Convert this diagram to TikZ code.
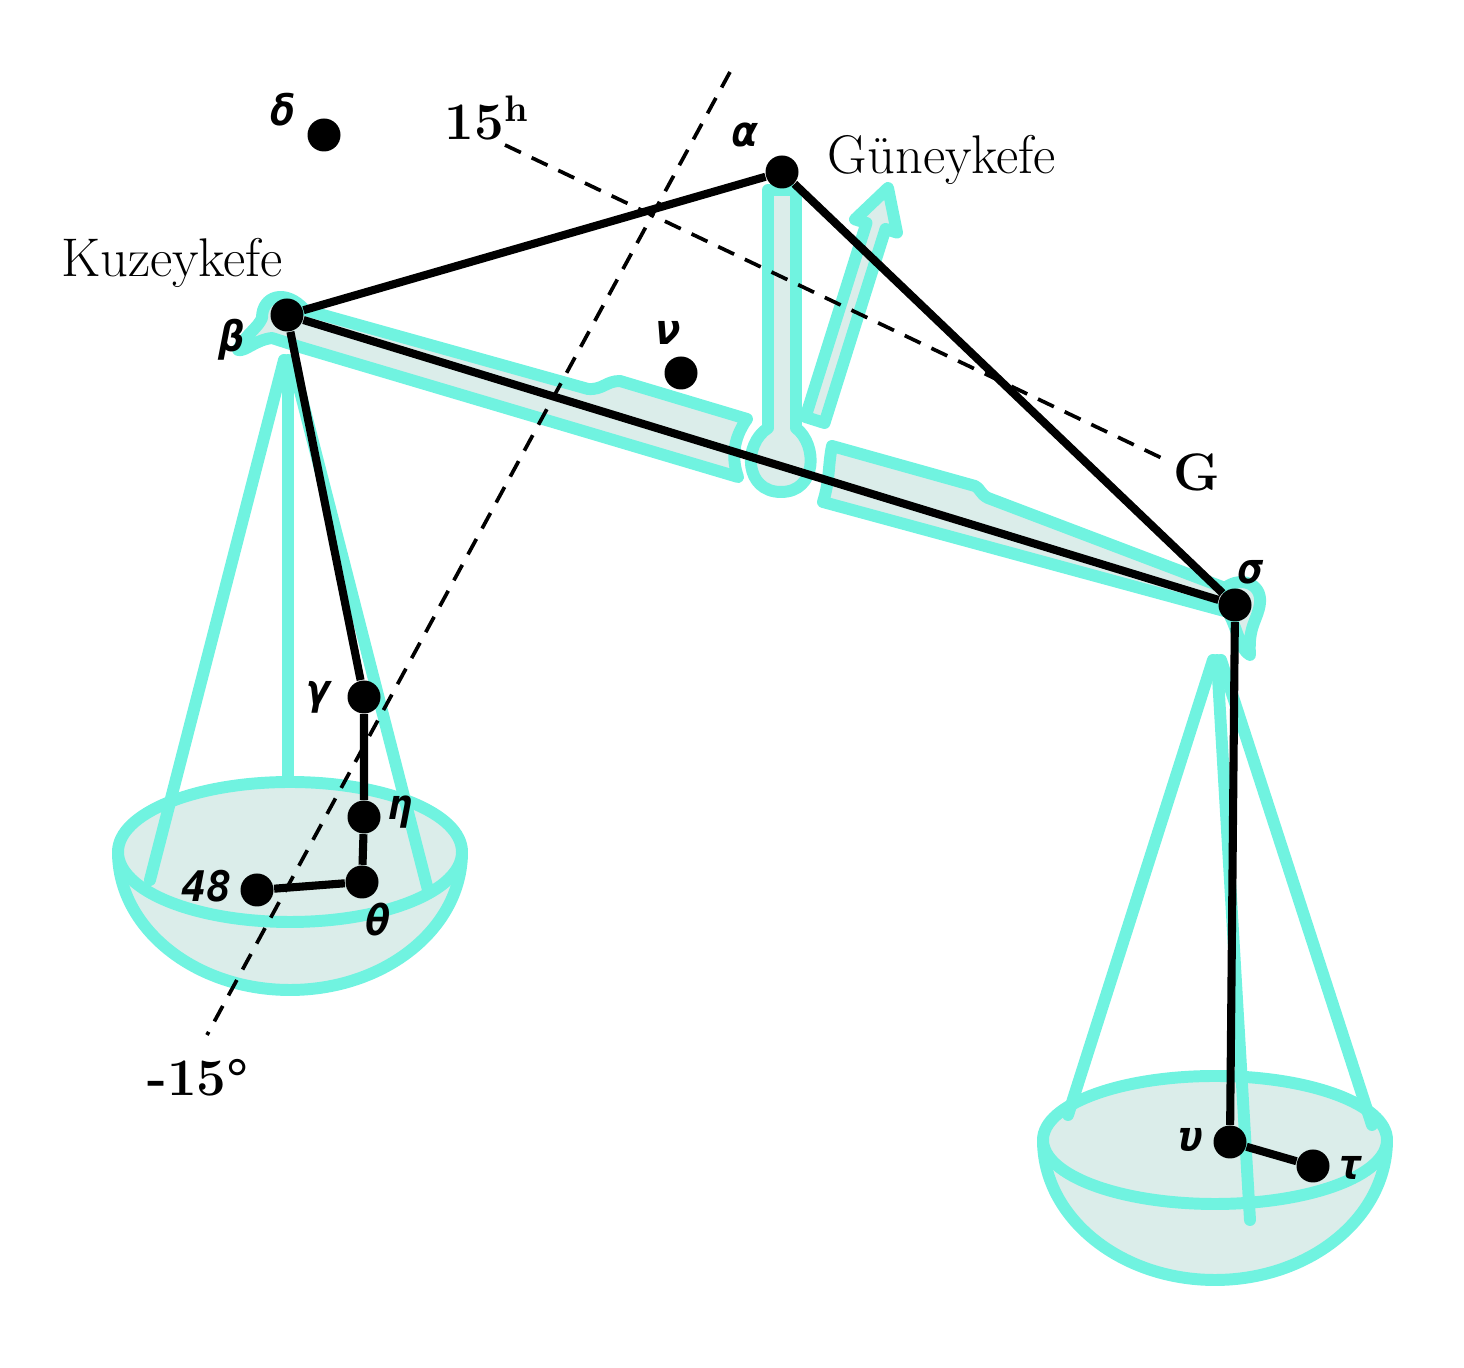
\documentclass[tikz,border=0pt]{standalone}
\usepackage{fontspec}
\newfontfamily\harffont{DejaVu Sans Mono}
\usetikzlibrary{positioning}
\definecolor{turkuaz}{RGB}{112,243,224}
\definecolor{soluk}{RGB}{219,237,234}
\tikzset{
  yildiz/.style={circle, fill=black, inner sep=0pt, minimum size=3.3mm},
  hat/.style={line width=2.3pt, line join=round},
  kesik/.style={line width=1.05pt, dash pattern=on 5pt off 3.4pt},
  tel/.style={draw=turkuaz, line width=3.4pt, line cap=round},
  govde/.style={draw=turkuaz, fill=soluk, line width=3.4pt, line join=round},
  harf/.style={font=\harffont\bfseries\itshape\fontsize{12}{14}\selectfont},
  ad/.style={font=\fontsize{15.5}{18}\selectfont},
  koor/.style={font=\bfseries\fontsize{15}{18}\selectfont}
}
\newcommand{\kefe}[5]{
  \draw[govde] (#1-#3,#2) arc[start angle=180, end angle=360, x radius=#3*0.1mm, y radius=#5*0.1mm] -- cycle;
  \draw[govde] (#1,#2) ellipse[x radius=#3*0.1mm, y radius=#4*0.1mm]
}
\begin{document}
\begin{tikzpicture}[x=0.1mm, y=-0.1mm]
  \useasboundingbox (0,0) rectangle (1464,1368);
  % terazi
  \kefe{290}{852}{172}{70}{138};
  \kefe{1215}{1140}{172}{64}{140};
  \draw[tel] (284,360) -- (150,880);
  \draw[tel] (288,360) -- (288,780);
  \draw[tel] (292,360) -- (428,890);
  \draw[tel] (1213,660) -- (1068,1115);
  \draw[tel] (1217,660) -- (1250,1220);
  \draw[tel] (1221,660) -- (1372,1125);
  \draw[govde] (305,310) -- (588,389) .. controls (603,390) and (606,381) .. (620,381) -- (747,419)
    .. controls (732,440) and (732,460) .. (738,477) -- (300,347) -- (272,338)
    .. controls (255,340) and (245,352) .. (238,350) .. controls (245,335) and (258,328) .. (262,318)
    .. controls (262,296) and (285,288) .. cycle;
  \draw[govde] (832,446) -- (975,486) .. controls (980,488) and (980,494) .. (988,498) -- (1225,588)
    .. controls (1240,576) and (1262,583) .. (1260,603) .. controls (1258,620) and (1248,625) .. (1250,655)
    .. controls (1240,650) and (1238,630) .. (1228,612) -- (823,502)
    .. controls (830,480) and (828,465) .. cycle;
  \draw[govde] (805.5,417) -- (866.5,223) -- (855,219.4) -- (888,188) -- (897,232.6) -- (885.5,229) -- (824.5,423) -- cycle;
  \draw[govde] (768,190) -- (768,428) .. controls (742,445) and (745,492) .. (781,492)
    .. controls (817,492) and (818,445) .. (796,428) -- (796,190) -- cycle;
  % koordinat cizgileri
  \coordinate (s1) at (505,145);
  \coordinate (s2) at (1170,462);
  \coordinate (d1) at (730,72);
  \coordinate (d2) at (207,1035);
  \draw[kesik] (s1) -- (s2);
  \draw[kesik] (d1) -- (d2);
  % yildizlar
  \node[yildiz] (delta) at (324,135) {};
  \node[yildiz] (alfa) at (782,172) {};
  \node[yildiz] (beta) at (287,315) {};
  \node[yildiz] (nu) at (681,373) {};
  \node[yildiz] (sigma) at (1235,605) {};
  \node[yildiz] (gama) at (364,697) {};
  \node[yildiz] (eta) at (364,817) {};
  \node[yildiz] (teta) at (362,882) {};
  \node[yildiz] (kirksekiz) at (257,890) {};
  \node[yildiz] (upsilon) at (1230,1142) {};
  \node[yildiz] (tau) at (1313,1166) {};
  \draw[hat] (alfa) -- (beta) -- (sigma) -- (alfa);
  \draw[hat] (beta) -- (gama) -- (eta) -- (teta) -- (kirksekiz);
  \draw[hat] (sigma) -- (upsilon) -- (tau);
  % yazilar
  \node[harf] (delta-l) at (283,110) {δ};
  \node[harf] (alfa-l) at (745,135) {α};
  \node[harf] (beta-l) at (232,340) {β};
  \node[harf] (nu-l) at (668,333) {ν};
  \node[harf] (sigma-l) at (1251,572) {σ};
  \node[harf] (gama-l) at (320,697) {γ};
  \node[harf] (eta-l) at (400,812) {η};
  \node[harf] (teta-l) at (378,920) {θ};
  \node[harf] (kirksekiz-l) at (207,886) {48};
  \node[harf] (upsilon-l) at (1190,1140) {υ};
  \node[harf] (tau-l) at (1350,1168) {τ};
  \node[ad] (kuzey) at (172,263) {Kuzeykefe};
  \node[ad] (guney) at (942,160) {Güneykefe};
  \node[koor] (saat) at (487,118) {15\textsuperscript{h}};
  \node[koor] (derece) at (198,1078) {-15°};
  \node[koor] (g) at (1197,472) {G};
\end{tikzpicture}
\end{document}
